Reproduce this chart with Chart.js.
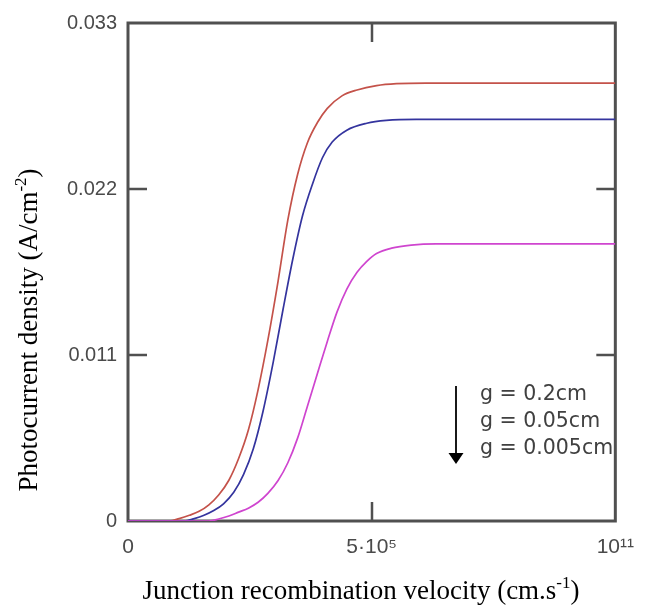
<!DOCTYPE html>
<html><head><meta charset="utf-8">
<script src="https://cdn.jsdelivr.net/npm/chart.js@4.4.1/dist/chart.umd.min.js"></script>
<style>html,body{margin:0;padding:0;background:#fff;}</style>
</head><body>
<canvas id="c" width="648" height="612"></canvas>
<script>
// ---- data ----
const seriesNames = ['g = 0.2cm', 'g = 0.05cm', 'g = 0.005cm'];
const xTickValues = [0, 0.5, 1];
const xTickLabels = ['0', '5\u00B710\u2075', '10\u00B9\u00B9'];
const yTickValues = [0, 0.011, 0.022, 0.033];
const yTickLabels = ['0', '0.011', '0.022', '0.033'];

const xRed = [0, 0.085, 0.105, 0.126, 0.146, 0.166, 0.186, 0.207, 0.227, 0.247, 0.267, 0.287, 0.308, 0.328, 0.348, 0.368, 0.389, 0.409, 0.439, 0.470, 0.510, 0.551, 0.611, 1.0];
const yRed = [0, 0, 0.00016, 0.00038, 0.00064, 0.00107, 0.00172, 0.00270, 0.00414, 0.00603, 0.00871, 0.01198, 0.01590, 0.01995, 0.02296, 0.02505, 0.02642, 0.02734, 0.02817, 0.02856, 0.02885, 0.02898, 0.02902, 0.02902];

const xBlue = [0, 0.115, 0.136, 0.156, 0.176, 0.196, 0.217, 0.237, 0.257, 0.277, 0.298, 0.318, 0.338, 0.358, 0.379, 0.399, 0.419, 0.449, 0.490, 0.530, 0.591, 1.0];
const yBlue = [0, 0, 0.00016, 0.00038, 0.00069, 0.00114, 0.00190, 0.00307, 0.00477, 0.00726, 0.01053, 0.01400, 0.01733, 0.02021, 0.02237, 0.02407, 0.02511, 0.02590, 0.02636, 0.02655, 0.02662, 0.02662];

const xMag = [0, 0.166, 0.186, 0.207, 0.227, 0.247, 0.267, 0.287, 0.308, 0.328, 0.348, 0.368, 0.389, 0.409, 0.429, 0.449, 0.470, 0.490, 0.510, 0.541, 0.581, 0.632, 1.0];
const yMag = [0, 0, 0.00013, 0.00033, 0.00059, 0.00085, 0.00124, 0.00183, 0.00268, 0.00386, 0.00549, 0.00759, 0.00981, 0.01190, 0.01386, 0.01537, 0.01648, 0.01720, 0.01772, 0.01808, 0.01828, 0.01836, 0.01836];

const xTitleParts = [['Junction recombination velocity (cm.s', false], ['-1', true], [')', false]];
const yTitleParts = [['Photocurrent density (A/cm', false], ['-2', true], [')', false]];

const pts = (xs, ys) => xs.map((x, i) => ({x: x, y: ys[i]}));

// ---- helpers ----
function drawParts(ctx, parts, size, family) {
  let total = 0;
  const supSize = Math.round(size * 0.62);
  parts.forEach(([t, sup]) => {
    ctx.font = (sup ? supSize : size) + 'px ' + family;
    total += ctx.measureText(t).width;
  });
  let x = -total / 2;
  parts.forEach(([t, sup]) => {
    ctx.font = (sup ? supSize : size) + 'px ' + family;
    ctx.fillText(t, x, sup ? -size * 0.42 : 0);
    x += ctx.measureText(t).width;
  });
}

const framePlugin = {
  id: 'frame',
  beforeDatasetsDraw(chart) {
    const {ctx, chartArea: a, scales} = chart;
    ctx.save();
    ctx.strokeStyle = '#505050';
    ctx.lineWidth = 3;
    ctx.strokeRect(a.left, a.top, a.right - a.left, a.bottom - a.top);
    ctx.lineWidth = 2.5;
    const L = 19;
    yTickValues.slice(1, -1).forEach(v => {
      const y = Math.round(scales.y.getPixelForValue(v));
      ctx.beginPath();
      ctx.moveTo(a.left, y); ctx.lineTo(a.left + L, y);
      ctx.moveTo(a.right, y); ctx.lineTo(a.right - L, y);
      ctx.stroke();
    });
    xTickValues.slice(1, -1).forEach(v => {
      const x = Math.round(scales.x.getPixelForValue(v));
      ctx.beginPath();
      ctx.moveTo(x, a.bottom); ctx.lineTo(x, a.bottom - L);
      ctx.moveTo(x, a.top); ctx.lineTo(x, a.top + L);
      ctx.stroke();
    });
    ctx.restore();
  },
  afterDraw(chart) {
    const {ctx, chartArea: a} = chart;
    ctx.save();
    // annotation arrow + labels
    const ax = a.left + 328, ay0 = a.top + 363, ay1 = a.top + 441;
    ctx.strokeStyle = '#000';
    ctx.fillStyle = '#000';
    ctx.lineWidth = 1.8;
    ctx.beginPath(); ctx.moveTo(ax, ay0); ctx.lineTo(ax, ay1 - 8); ctx.stroke();
    ctx.beginPath(); ctx.moveTo(ax - 7.5, ay1 - 11); ctx.lineTo(ax + 7.5, ay1 - 11); ctx.lineTo(ax, ay1); ctx.closePath(); ctx.fill();
    ctx.fillStyle = '#404040';
    ctx.font = '20.5px "DejaVu Sans"';
    ctx.textAlign = 'left';
    ctx.textBaseline = 'alphabetic';
    seriesNames.forEach((n, i) => ctx.fillText(n, a.left + 352, a.top + 377 + i * 27));
    // axis titles
    ctx.fillStyle = '#000';
    ctx.save();
    ctx.translate(361, 599);
    drawParts(ctx, xTitleParts, 27, '"Liberation Serif"');
    ctx.restore();
    ctx.save();
    ctx.translate(37, 330);
    ctx.rotate(-Math.PI / 2);
    drawParts(ctx, yTitleParts, 27, '"Liberation Serif"');
    ctx.restore();
    ctx.restore();
  }
};

const tickFont = {family: '"Liberation Sans"', size: 20};

new Chart(document.getElementById('c'), {
  type: 'line',
  data: {
    datasets: [
      {label: seriesNames[0], data: pts(xRed, yRed), borderColor: '#c4524a', order: 3},
      {label: seriesNames[1], data: pts(xBlue, yBlue), borderColor: '#34349e', order: 2},
      {label: seriesNames[2], data: pts(xMag, yMag), borderColor: '#cf45cf', order: 1}
    ].map(d => Object.assign(d, {borderWidth: 1.7, pointRadius: 0, fill: false, cubicInterpolationMode: 'monotone'}))
  },
  options: {
    responsive: false,
    animation: false,
    devicePixelRatio: 1,
    layout: {padding: {top: 15, right: 26, left: 0, bottom: 0}},
    plugins: {legend: {display: false}, tooltip: {enabled: false}},
    scales: {
      x: {
        type: 'linear', min: 0, max: 1,
        afterBuildTicks: s => { s.ticks = xTickValues.map(v => ({value: v})); },
        afterFit: s => { s.height = 91; },
        ticks: {callback: (v, i) => xTickLabels[i], font: {family: '"Liberation Sans"', size: 21}, color: '#4a4a4a', padding: 14, maxRotation: 0, autoSkip: false},
        grid: {display: false, drawTicks: false},
        border: {display: false}
      },
      y: {
        type: 'linear', min: 0, max: 0.033,
        afterBuildTicks: s => { s.ticks = yTickValues.map(v => ({value: v})); },
        afterFit: s => { s.width = 128; },
        ticks: {callback: (v, i) => yTickLabels[i], font: tickFont, color: '#4a4a4a', padding: 11, autoSkip: false},
        grid: {display: false, drawTicks: false},
        border: {display: false}
      }
    }
  },
  plugins: [framePlugin]
});
</script>
</body></html>
